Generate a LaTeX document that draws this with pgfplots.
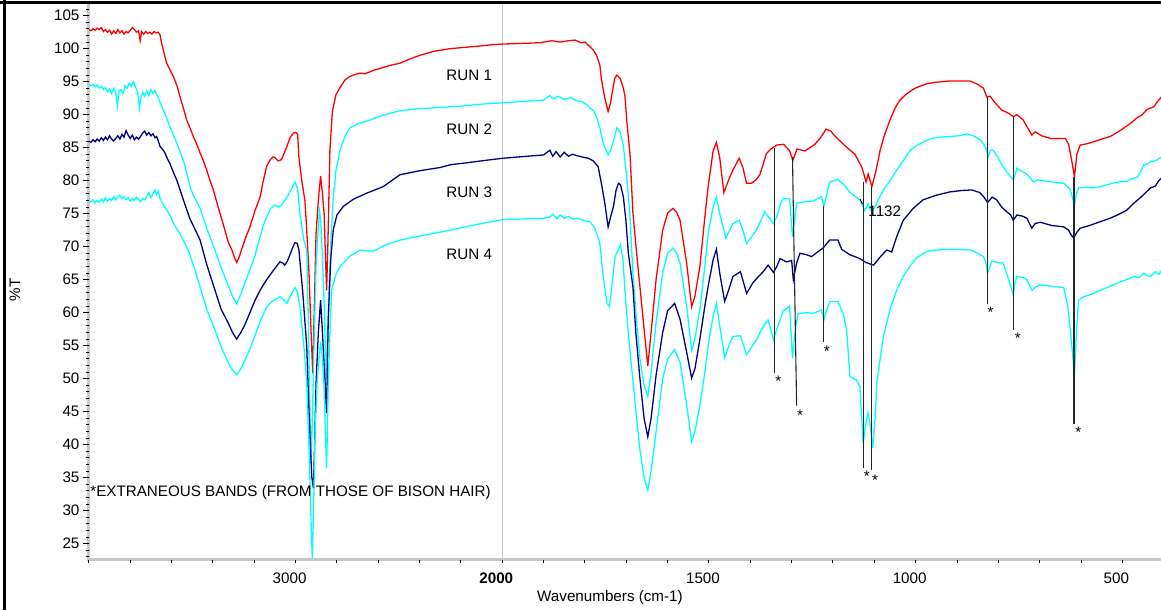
\documentclass[border=0pt]{standalone}
\usepackage{pgfplots}
\pgfplotsset{compat=1.18}
\usepackage{pgfplotstable}
\usepackage{fontspec}
\setmainfont{Liberation Sans}
\definecolor{navyT}{RGB}{0,0,128}
\definecolor{cyanT}{RGB}{0,255,255}
\definecolor{redT}{RGB}{255,0,0}
\newcommand\fs{\fontsize{7.6pt}{9pt}\selectfont}
\pgfplotsset{table/wn/.style={x expr={(\thisrow{w}>=2000) ? ((4000-\thisrow{w})/2) : (3000-\thisrow{w})}, y=T}}

\pgfplotstableread{
w T
3999 102.9
3990 102.7
3980 103.0
3970 102.8
3960 103.1
3950 102.9
3940 103.2
3930 102.6
3920 102.9
3910 102.5
3900 102.8
3890 102.2
3880 102.7
3870 102.3
3860 102.9
3850 102.4
3840 102.7
3830 102.2
3820 102.6
3810 102.4
3800 102.8
3790 103.2
3780 102.9
3770 102.5
3760 102.7
3752 101.2
3745 102.6
3735 102.2
3725 102.6
3715 102.3
3705 102.5
3695 102.2
3685 102.6
3675 102.4
3665 102.5
3656 102.1
3648 100.8
3640 99.8
3624 97.8
3608 96.8
3592 95.8
3575 94.5
3559 92.7
3543 91.0
3527 89.2
3511 88.0
3495 86.7
3478 85.5
3462 84.2
3446 83.0
3430 81.6
3414 80.0
3398 78.6
3370 75.5
3342 72.5
3325 70.6
3308 69.5
3295 68.3
3285 67.6
3272 68.5
3259 69.8
3240 71.5
3221 73.0
3196 75.5
3172 77.5
3156 80.0
3140 82.2
3124 83.1
3110 83.6
3100 83.5
3085 83.0
3076 83.1
3068 83.2
3055 84.2
3043 85.1
3027 86.5
3011 87.2
2998 87.3
2990 87.0
2984 83.6
2970 80.0
2955 77.0
2946 72.5
2935 66.0
2925 57.0
2917 50.8
2910 60.0
2901 72.0
2890 77.0
2879 80.7
2870 78.0
2862 75.0
2855 68.0
2850 63.4
2844 70.0
2834 84.6
2822 90.5
2805 93.0
2785 94.1
2760 95.3
2737 95.8
2710 96.1
2688 96.3
2664 96.2
2640 96.5
2615 96.8
2592 97.0
2550 97.4
2495 97.8
2450 98.4
2398 99.0
2330 99.6
2253 100.0
2180 100.2
2108 100.4
2050 100.6
1998 100.7
1950 100.8
1909 100.9
1880 101.2
1860 101.0
1840 101.2
1824 101.3
1810 100.9
1800 101.0
1788 100.3
1780 99.8
1772 99.0
1764 97.5
1760 95.3
1752 92.5
1744 90.5
1738 91.8
1735 93.0
1728 95.5
1723 96.0
1715 95.5
1707 94.0
1703 92.7
1699 89.2
1691 84.0
1684 75.1
1675 69.0
1667 63.9
1657 57.5
1648 51.9
1640 57.0
1628 65.0
1612 72.5
1600 75.1
1587 75.8
1578 75.2
1570 74.0
1554 67.5
1542 60.9
1534 62.5
1522 67.0
1510 74.5
1502 79.1
1490 84.5
1482 85.8
1474 83.5
1464 78.2
1452 80.2
1442 81.6
1427 83.4
1418 82.0
1409 79.6
1397 79.6
1385 80.2
1377 80.9
1369 82.5
1361 84.1
1350 84.8
1336 85.4
1319 85.5
1305 84.5
1297 83.1
1287 84.8
1268 84.5
1244 85.5
1230 86.5
1217 87.8
1205 87.5
1196 86.8
1171 85.3
1147 84.0
1130 82.0
1120 79.8
1115 81.0
1106 79.1
1098 81.0
1091 83.0
1086 84.6
1075 87.0
1062 89.2
1050 91.0
1038 92.2
1025 93.0
1014 93.5
1002 94.0
990 94.3
972 94.7
953 94.9
917 95.1
890 95.1
868 95.1
850 94.6
836 94.0
828 92.7
820 92.8
808 91.8
792 90.7
775 90.2
764 89.7
755 90.0
740 89.2
731 88.2
719 86.9
711 87.4
695 86.8
674 86.4
650 86.4
638 86.4
630 85.5
626 84.2
621 82.5
616 80.6
610 84.0
602 85.4
585 85.6
569 85.9
550 86.3
529 86.7
505 87.6
480 88.7
465 89.5
452 90.0
440 90.8
424 91.2
415 92.0
405 92.7
}\runone

\pgfplotstableread{
w T
3999 94.6
3990 94.4
3980 94.6
3970 94.2
3960 94.5
3950 94.0
3940 94.3
3930 93.8
3920 94.1
3910 93.5
3900 93.9
3890 93.2
3880 94.0
3870 93.3
3862 91.3
3855 93.6
3845 93.8
3835 93.2
3825 94.4
3815 94.0
3805 94.8
3795 94.3
3785 95.0
3775 94.2
3765 93.6
3755 91.0
3748 92.6
3740 93.4
3730 92.8
3720 93.6
3710 92.9
3700 93.8
3690 93.2
3680 93.7
3672 93.0
3664 92.6
3655 91.8
3640 90.7
3624 89.5
3608 88.2
3592 87.0
3575 85.7
3559 84.4
3543 83.1
3527 81.2
3511 79.1
3495 77.8
3478 76.8
3462 75.8
3430 72.8
3390 69.5
3360 66.8
3327 64.2
3305 62.5
3285 61.3
3265 62.8
3245 64.5
3221 66.5
3196 68.7
3172 71.5
3156 73.2
3140 74.5
3120 75.8
3100 76.3
3085 76.0
3068 76.3
3052 77.0
3037 77.8
3020 78.8
3003 79.8
2990 78.8
2979 75.0
2960 71.0
2946 69.5
2939 60.0
2932 47.0
2925 37.0
2918 45.0
2911 55.0
2900 68.0
2885 75.5
2878 74.0
2872 70.0
2860 60.0
2853 49.6
2846 56.0
2839 63.0
2829 71.0
2819 77.0
2805 81.5
2785 84.6
2760 86.8
2737 88.0
2700 88.6
2640 89.2
2580 89.9
2495 90.6
2400 90.9
2300 91.1
2200 91.3
2100 91.6
1998 91.8
1950 92.0
1900 92.2
1885 92.9
1877 92.4
1865 92.8
1850 92.3
1836 92.6
1820 92.1
1808 92.0
1795 91.5
1788 91.0
1780 90.6
1772 89.7
1764 88.0
1756 85.7
1744 83.9
1737 84.8
1731 86.0
1723 88.0
1715 87.4
1707 85.2
1698 80.0
1691 74.5
1684 66.0
1675 58.5
1667 53.0
1657 49.0
1648 47.3
1640 51.0
1628 58.5
1612 66.0
1600 69.0
1587 69.8
1578 69.0
1570 67.5
1554 61.0
1542 54.3
1534 56.0
1522 60.5
1510 67.0
1502 72.0
1490 76.0
1482 77.5
1474 75.0
1459 71.3
1450 72.5
1442 73.5
1427 74.0
1418 72.5
1409 70.5
1397 71.5
1385 72.5
1365 75.3
1344 73.5
1336 74.5
1328 76.3
1321 77.3
1305 77.3
1298 71.5
1288 76.6
1270 76.8
1248 76.9
1228 77.6
1222 76.2
1215 78.0
1208 79.8
1188 80.2
1172 79.3
1159 78.2
1135 77.1
1123 75.5
1115 76.5
1106 75.2
1095 76.5
1078 78.6
1062 80.0
1046 81.6
1030 83.0
1014 84.6
995 85.4
977 86.0
960 86.4
941 86.6
917 86.7
895 86.8
876 87.1
860 86.8
844 86.2
834 85.4
828 84.6
825 83.6
819 84.6
813 84.6
800 83.5
792 82.4
778 81.2
764 80.1
759 81.0
755 81.9
745 81.5
731 81.0
723 80.4
715 79.8
705 80.1
691 80.0
670 79.8
642 79.6
630 78.9
626 78.6
621 77.5
616 76.3
612 77.8
606 78.9
590 79.0
570 78.9
553 79.1
530 79.5
512 79.8
490 79.9
472 80.4
464 80.5
455 81.5
448 82.4
440 82.5
432 82.9
420 83.0
405 83.6
}\runtwo

\pgfplotstableread{
w T
3999 86.0
3990 85.8
3980 86.2
3970 85.9
3960 86.3
3950 86.0
3940 86.5
3930 86.1
3920 86.6
3910 86.2
3900 86.8
3890 86.3
3880 86.0
3870 86.4
3860 86.8
3850 86.3
3840 87.0
3830 86.6
3820 87.6
3810 86.9
3800 86.4
3790 86.9
3780 86.2
3770 86.6
3760 86.3
3750 86.7
3740 87.2
3730 87.5
3720 86.9
3710 87.3
3700 86.8
3690 87.1
3680 86.5
3672 86.7
3662 85.8
3656 85.2
3640 84.6
3632 84.2
3620 83.3
3608 82.6
3592 81.3
3575 80.1
3559 78.6
3543 77.1
3511 74.2
3480 72.2
3462 71.0
3430 67.3
3390 63.4
3360 60.5
3327 58.5
3305 57.0
3285 56.0
3265 57.0
3245 58.2
3221 60.0
3196 61.9
3170 63.5
3140 65.0
3110 66.3
3076 67.7
3060 67.5
3052 67.2
3040 67.8
3027 68.8
3010 70.2
3003 70.6
2992 70.5
2984 69.5
2965 63.0
2946 54.8
2935 45.0
2922 35.2
2914 33.4
2908 40.0
2901 49.3
2890 57.0
2879 61.9
2870 57.0
2858 49.8
2850 44.8
2842 58.9
2830 68.0
2818 72.5
2800 74.8
2769 76.1
2720 77.2
2656 78.1
2576 79.1
2495 80.9
2400 81.5
2300 82.0
2253 82.4
2150 82.8
2050 83.2
1998 83.4
1940 83.7
1900 83.9
1885 84.6
1878 83.7
1870 84.4
1860 83.6
1850 84.3
1840 83.7
1830 84.0
1820 83.8
1808 83.6
1792 83.4
1780 83.0
1768 82.1
1760 79.5
1752 76.6
1744 73.0
1738 74.5
1731 76.1
1725 78.5
1719 79.6
1714 79.4
1707 77.5
1701 74.0
1695 69.0
1684 63.9
1677 57.0
1667 50.0
1657 44.0
1648 41.2
1640 44.0
1628 50.5
1612 57.0
1600 60.3
1583 61.4
1570 59.0
1554 54.0
1542 50.1
1534 51.5
1522 56.0
1510 61.0
1502 64.0
1490 68.0
1482 69.6
1474 66.0
1462 61.7
1452 63.5
1442 65.5
1424 66.2
1416 64.5
1409 62.9
1394 64.5
1380 65.5
1369 66.2
1357 67.2
1344 66.1
1336 67.0
1328 68.2
1313 67.7
1300 67.9
1296 65.0
1288 67.5
1280 69.0
1265 68.8
1252 68.5
1235 69.3
1224 69.8
1208 71.0
1188 71.0
1179 69.6
1160 68.8
1135 68.2
1120 67.6
1102 67.2
1085 68.5
1070 69.5
1058 69.2
1046 71.5
1030 74.0
1006 75.8
982 77.1
950 77.8
917 78.3
890 78.5
864 78.6
845 78.2
836 77.6
826 76.7
815 77.5
804 77.1
792 76.0
780 75.3
770 74.8
764 74.0
755 74.8
740 74.6
731 74.3
719 72.8
711 73.5
699 73.7
670 73.2
642 73.0
630 72.5
626 72.0
618 71.3
610 72.2
602 72.8
580 73.2
553 73.8
530 74.3
512 74.8
490 75.5
472 76.6
455 77.5
432 78.9
420 79.2
412 80.0
405 80.4
}\runthree

\pgfplotstableread{
w T
3999 77.0
3990 76.8
3980 77.1
3970 76.6
3960 77.0
3950 76.7
3940 77.2
3930 76.8
3920 77.4
3910 76.9
3900 77.3
3890 77.0
3880 77.6
3870 77.1
3860 77.5
3850 77.8
3840 77.3
3830 77.6
3820 77.1
3810 77.4
3800 76.9
3790 77.3
3780 77.0
3770 77.5
3760 77.2
3750 76.8
3740 77.3
3730 77.1
3720 77.6
3710 78.2
3700 77.4
3690 78.0
3680 78.6
3672 77.9
3664 78.4
3656 77.3
3640 76.3
3624 75.6
3608 74.8
3590 73.5
3559 71.9
3535 70.5
3511 68.8
3490 66.8
3462 63.9
3430 60.5
3390 57.4
3360 54.8
3327 52.5
3305 51.3
3285 50.6
3265 51.5
3245 52.8
3221 54.5
3196 56.6
3170 58.8
3140 60.9
3110 61.8
3076 62.4
3060 62.0
3043 61.4
3025 62.5
3003 63.8
2992 63.2
2979 61.0
2960 55.0
2946 49.3
2938 42.0
2930 34.2
2924 27.0
2919 22.8
2913 30.0
2906 41.8
2895 50.0
2879 55.6
2870 53.0
2863 49.3
2856 42.0
2850 36.4
2842 49.3
2833 58.0
2825 63.4
2805 65.8
2785 67.0
2740 68.5
2688 69.5
2624 69.3
2570 70.2
2495 71.0
2400 71.6
2300 72.2
2253 72.5
2150 73.2
2050 73.8
1998 74.1
1950 74.2
1900 74.3
1885 74.5
1877 74.9
1868 74.2
1860 74.8
1850 74.3
1840 74.6
1830 74.2
1818 74.3
1800 73.9
1788 73.8
1776 72.8
1764 70.5
1756 65.5
1747 61.5
1741 60.9
1735 64.0
1727 68.5
1714 70.3
1708 68.0
1703 63.0
1694 56.0
1684 49.8
1675 44.0
1667 39.2
1657 35.0
1648 33.1
1640 36.0
1628 42.0
1612 50.0
1600 53.0
1583 54.4
1570 52.5
1554 46.0
1542 40.5
1534 42.0
1522 46.0
1510 51.0
1502 55.0
1490 59.5
1482 61.4
1474 58.0
1462 53.2
1452 55.0
1442 56.4
1424 56.5
1416 55.0
1409 53.6
1395 55.0
1385 55.9
1369 57.9
1357 58.9
1344 55.9
1336 57.5
1328 58.9
1321 60.2
1305 61.0
1298 53.1
1290 58.0
1284 59.9
1265 60.0
1248 59.9
1228 60.4
1222 58.9
1215 60.5
1208 61.7
1188 61.7
1175 59.8
1167 57.4
1159 50.3
1150 50.0
1143 49.8
1135 48.8
1127 40.2
1120 43.5
1115 44.8
1110 43.0
1104 39.5
1098 44.0
1094 49.3
1086 53.0
1078 56.4
1062 60.5
1046 63.4
1030 65.5
1014 67.0
1000 68.2
982 69.0
965 69.4
949 69.5
910 69.6
868 69.5
850 69.0
836 68.5
830 67.5
826 66.0
820 67.0
816 67.8
800 67.6
788 67.5
775 65.0
764 62.7
760 64.5
755 65.5
740 65.3
731 65.0
719 63.4
710 63.9
699 64.2
670 64.0
642 63.8
632 61.0
626 57.4
620 53.5
616 50.3
611 57.0
606 61.9
594 62.4
575 62.8
553 63.4
530 64.0
512 64.5
490 65.0
472 65.5
460 65.3
448 66.0
440 65.6
432 65.5
420 66.2
412 65.8
405 66.4
}\runfour

\begin{document}
\begin{tikzpicture}
% grey axis bars (drawn first, ticks go on top)
\fill[black!22] (43.7pt,24.25pt) rectangle (45.2pt,303.5pt);
\fill[black!22] (43.7pt,24.25pt) rectangle (582pt,25.75pt);
\begin{axis}[
  scale only axis, width=537.4pt, height=278.5pt,
  at={(44.45pt,25pt)}, anchor=south west,
  xmin=0, xmax=2600, ymin=22.53, ymax=106.92,
  clip=false,
  axis x line*=bottom, axis y line*=left,
  axis line style={draw=none},
  xtick={500,1000,1500,2000,2500},
  xticklabels={3000,\textbf{2000},1500,1000,500},
  minor xtick={0,100,...,2600},
  ytick={25,30,...,105},
  minor ytick={23,24,...,106},
  tick align=outside,
  major tick length=3pt, minor tick length=1.6pt,
  tick style={black, line width=0.5pt},
  major x tick style={draw=none},
  /pgf/number format/assume math mode=true,
  xticklabel style={font=\fs, xshift=-3pt},
  yticklabel style={font=\fs, xshift=1.8pt},
]
\addplot[draw=black!20, line width=0.75pt] table[wn,row sep=\\] {w T\\2000 22.53\\2000 106.92\\};
\addplot[redT, line width=0.65pt] table[wn] {\runone};
\addplot[cyanT, line width=0.65pt] table[wn] {\runtwo};
\addplot[navyT, line width=0.65pt] table[wn] {\runthree};
\addplot[cyanT, line width=0.65pt] table[wn] {\runfour};
% annotation lines for extraneous bands
\addplot[black!85, line width=0.55pt] table[wn,row sep=\\] {w T\\1341 85.0\\1341 50.9\\};
\addplot[black!85, line width=0.55pt] table[wn,row sep=\\] {w T\\1298 83.6\\1288 45.9\\};
\addplot[black!85, line width=0.55pt] table[wn,row sep=\\] {w T\\1222 76.2\\1222 55.5\\};
\addplot[black!85, line width=0.55pt] table[wn,row sep=\\] {w T\\1126 79.8\\1126 36.4\\};
\addplot[black!85, line width=0.55pt] table[wn,row sep=\\] {w T\\1106 79.1\\1106 36.1\\};
\addplot[black!85, line width=0.55pt] table[wn,row sep=\\] {w T\\826 92.7\\826 61.3\\};
\addplot[black!85, line width=0.55pt] table[wn,row sep=\\] {w T\\764 89.7\\764 57.4\\};
\addplot[black!85, line width=0.55pt] table[wn,row sep=\\] {w T\\617 80.6\\617 43.2\\};
% labels
\node[anchor=east, font=\fs] at (rel axis cs:0.3816,0.8707) {RUN 1};
\node[anchor=east, font=\fs] at (rel axis cs:0.3816,0.7738) {RUN 2};
\node[anchor=east, font=\fs] at (rel axis cs:0.3816,0.6594) {RUN 3};
\node[anchor=east, font=\fs] at (rel axis cs:0.3816,0.5494) {RUN 4};
\node[anchor=west, font=\fs, inner sep=0pt] at (rel axis cs:0.7249,0.6266) {1132};
\draw[black, line width=0.4pt] (rel axis cs:0.7174,0.6481) -- (rel axis cs:0.7197,0.6391);
\node[anchor=west, font=\fs, inner sep=0pt] at (rel axis cs:0.001,0.1203) {*EXTRANEOUS BANDS (FROM THOSE OF BISON HAIR)};
\node[font=\fs, inner sep=0pt, yshift=-1.3pt] at (rel axis cs:0.6414,0.3262) {*};
\node[font=\fs, inner sep=0pt, yshift=-1.3pt] at (rel axis cs:0.6616,0.2652) {*};
\node[font=\fs, inner sep=0pt, yshift=-1.3pt] at (rel axis cs:0.6865,0.3801) {*};
\node[font=\fs, inner sep=0pt, yshift=-1.3pt] at (rel axis cs:0.7237,0.1544) {*};
\node[font=\fs, inner sep=0pt, yshift=-1.3pt] at (rel axis cs:0.7314,0.1485) {*};
\node[font=\fs, inner sep=0pt, yshift=-1.3pt] at (rel axis cs:0.8390,0.4501) {*};
\node[font=\fs, inner sep=0pt, yshift=-1.3pt] at (rel axis cs:0.8642,0.4022) {*};
\node[font=\fs, inner sep=0pt, yshift=-1.3pt] at (rel axis cs:0.9205,0.2347) {*};
\node[font=\fs] at (rel axis cs:0.4848,-0.0682) {Wavenumbers (cm-1)};
\node[font=\fs, rotate=90] at (rel axis cs:-0.0688,0.4847) {\%T};
\end{axis}
\draw[black, line width=1.5pt] (0,303.75pt) -- (580.5pt,303.75pt);
\draw[black, line width=1.25pt] (2.25pt,0) -- (2.25pt,305pt);
\pgfresetboundingbox
\useasboundingbox (0,0) rectangle (580.5pt,305pt);
\end{tikzpicture}
\end{document}
